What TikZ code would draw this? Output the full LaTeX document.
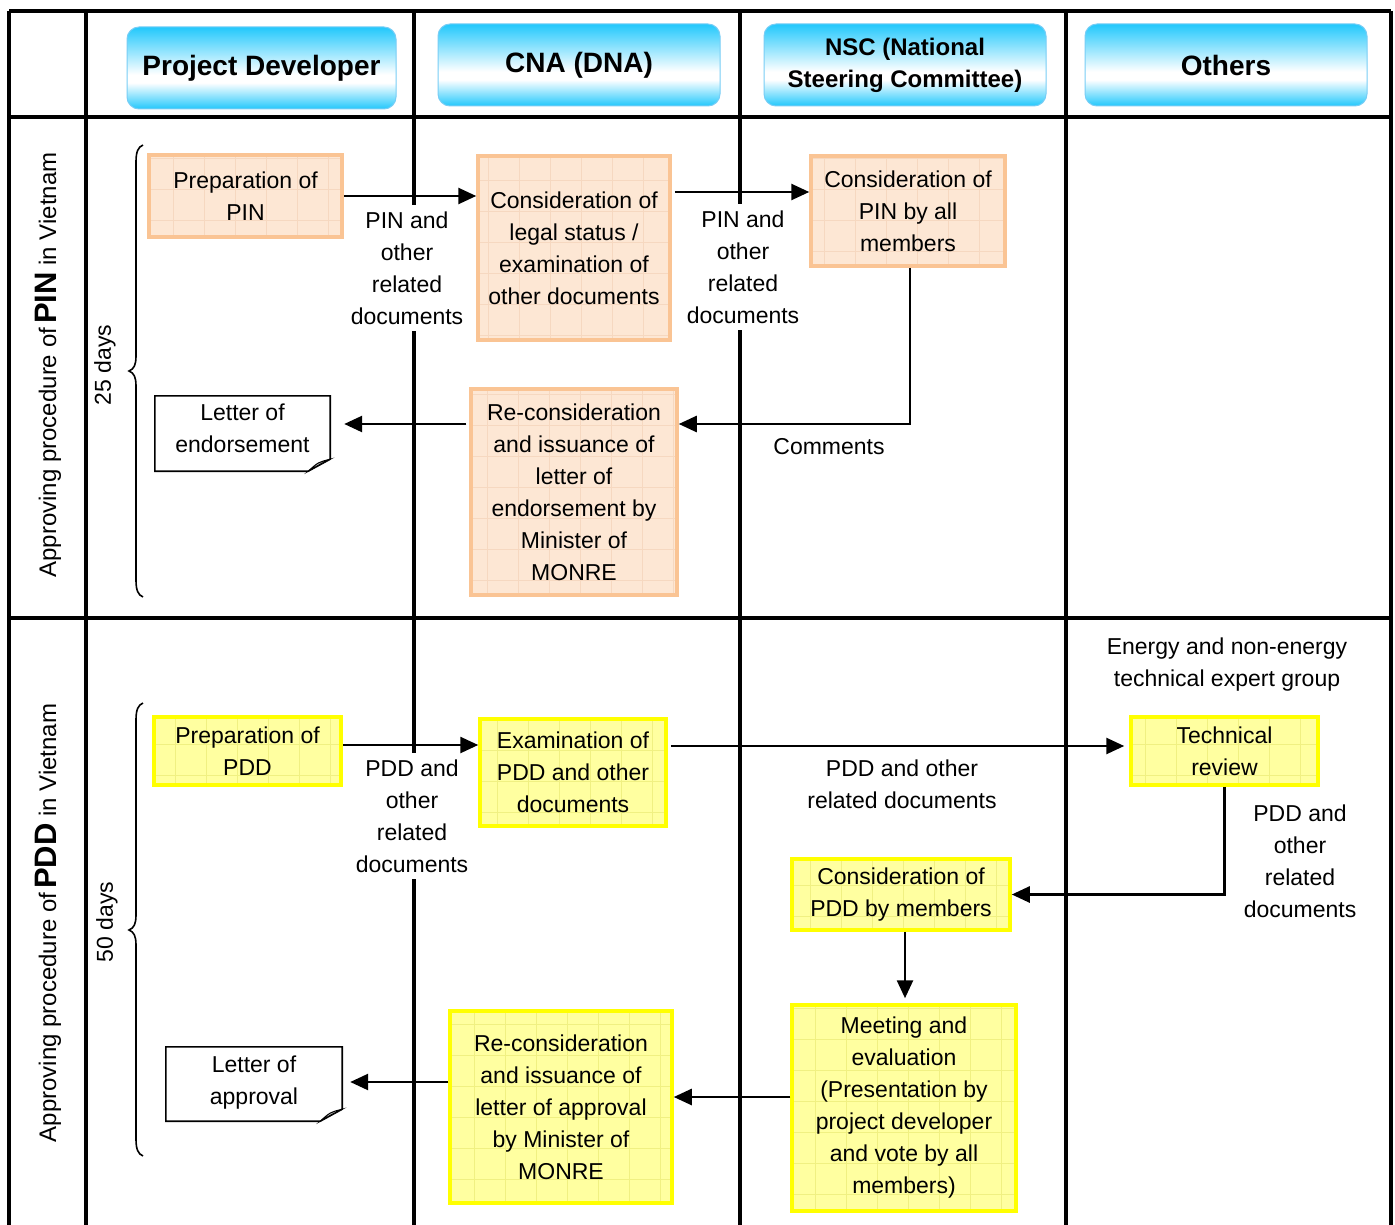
\documentclass[tikz,border=0pt]{standalone}
\usepackage{fontspec}
\setmainfont{Liberation Sans}
\usetikzlibrary{arrows.meta,calc}
\definecolor{hcyan}{RGB}{34,200,252}
\definecolor{hbord}{RGB}{120,205,245}
\definecolor{ofill}{RGB}{253,231,212}
\definecolor{obord}{RGB}{250,196,148}
\definecolor{ogrid}{RGB}{246,216,192}
\definecolor{yfill}{RGB}{255,255,160}
\definecolor{ybord}{RGB}{255,255,0}
\definecolor{ygrid}{RGB}{240,240,130}
\pgfdeclareverticalshading{hdrshade}{100bp}{color(0bp)=(hcyan); color(25bp)=(hcyan); color(41bp)=(white); color(46bp)=(white); color(75bp)=(hcyan); color(100bp)=(hcyan)}
\newcommand{\docoutline}[1]{%
  \draw[line width=1.6pt] (#1.north west) -- (#1.north east) -- ([yshift=12pt]#1.south east)
     -- ([xshift=-22pt]#1.south east) -- (#1.south west) -- cycle;
  \filldraw[fill=gray!45, line width=1pt] ([xshift=-22pt]#1.south east)
     .. controls ([xshift=-12pt,yshift=9pt]#1.south east) .. ([yshift=12pt]#1.south east)
     -- ([xshift=-10pt,yshift=7pt]#1.south east) -- cycle;}
\begin{document}
\begin{tikzpicture}[x=1pt,y=-1pt,
  every node/.style={font=\fontsize{23}{32}\selectfont},
  lane/.style={line width=3.2pt},
  hdr/.style={draw=hbord, line width=1pt, rounded corners=12pt, shading=hdrshade,
     minimum width=282pt, minimum height=82pt, align=center, inner sep=0pt},
  gridfill/.style={path picture={\draw[#1, line width=0.6pt] (path picture bounding box.south west) grid[step=31pt] (path picture bounding box.north east);}},
  obox/.style={draw=obord, line width=3.5pt, fill=ofill, align=center, inner sep=0pt, gridfill=ogrid},
  ybox/.style={draw=ybord, line width=3.5pt, fill=yfill, align=center, inner sep=0pt, gridfill=ygrid},
  docnode/.style={align=center, inner sep=0pt},
  doctext/.style={align=center, inner sep=0pt, yshift=#1},
  lbl/.style={fill=white, align=center, inner xsep=2pt, inner ysep=7pt},
  plain/.style={align=center, inner sep=0pt},
  arr/.style={line width=2.6pt, -{Triangle[length=18pt,width=16pt]}},
  bracepath/.style={line width=1.6pt}]
\useasboundingbox (0,0) rectangle (1395,1225);
% table lines
\draw[lane] (9,11) -- (1391,11);
\draw[lane] (9,117) -- (1391,117);
\draw[lane] (9,618) -- (1391,618);
\foreach \xx in {9,86,414,740,1066,1391} {\draw[lane] (\xx,11) -- (\xx,1226);}
% headers
\node[hdr, minimum width=269pt, font=\fontsize{28}{32}\selectfont\bfseries] (hPD) at (261.5,68) {Project Developer};
\node[hdr, font=\fontsize{28}{32}\selectfont\bfseries] (hCNA) at (579,65) {CNA (DNA)};
\node[hdr, font=\fontsize{24}{32}\selectfont\bfseries] (hNSC) at (905,65) {NSC (National\\Steering Committee)};
\node[hdr, font=\fontsize{28}{32}\selectfont\bfseries] (hOth) at (1226,65) {Others};
% row labels
\node[rotate=90, plain, font=\fontsize{24}{32}\selectfont] (rPIN) at (48,365) {Approving procedure of\,{\bfseries\fontsize{31}{31}\selectfont PIN} in Vietnam};
\node[rotate=90, plain, font=\fontsize{24}{32}\selectfont] (rPDD) at (48,923) {Approving procedure of\,{\bfseries\fontsize{31}{31}\selectfont PDD} in Vietnam};
\node[rotate=90, plain] (d25) at (105,365) {25 days};
\node[rotate=90, plain] (d50) at (107,922) {50 days};
% braces
\draw[bracepath] (143,145) .. controls (138,147) and (136,152) .. (136,162) -- (136,356) .. controls (136,365) and (134,369) .. (129,371) .. controls (134,373) and (136,377) .. (136,386) -- (136,580) .. controls (136,590) and (138,595) .. (143,597);
\draw[bracepath] (143,703) .. controls (138,705) and (136,710) .. (136,720) -- (136,915) .. controls (136,924) and (134,928) .. (129,930) .. controls (134,932) and (136,936) .. (136,945) -- (136,1139) .. controls (136,1149) and (138,1154) .. (143,1156);
% labels on lines
\node[lbl] (L1) at (407,268) {PIN and\\other\\related\\documents};
\node[lbl] (L2) at (743,267) {PIN and\\other\\related\\documents};
\node[plain] (Lc) at (829,447) {Comments};
\node[lbl] (L3) at (412,816) {PDD and\\other\\related\\documents};
\node[plain] (L4) at (902,784) {PDD and other\\related documents};
\node[plain] (L5) at (1300,861) {PDD and\\other\\related\\documents};
\node[plain] (Len) at (1227,665) {Energy and non-energy\\technical expert group};
% PIN row boxes
\node[obox, minimum width=193pt, minimum height=82pt] (PIN1) at (245.5,196) {Preparation of\\PIN};
\node[obox, minimum width=192pt, minimum height=184pt] (PIN2) at (574,248) {Consideration of\\legal status /\\examination of\\other documents};
\node[obox, minimum width=194pt, minimum height=110pt] (PIN3) at (908,211) {Consideration of\\PIN by all\\members};
\node[obox, minimum width=206pt, minimum height=206pt] (PIN4) at (574,492) {Re-consideration\\and issuance of\\letter of\\endorsement by\\Minister of\\MONRE};
\node[docnode, minimum width=175pt, minimum height=75pt] (PINlet) at (242.5,433.5) {};
\docoutline{PINlet}
\node[doctext=5pt] (PINlettxt) at (PINlet) {Letter of\\endorsement};
% PDD row boxes
\node[ybox, minimum width=187pt, minimum height=68pt] (PDD1) at (247.5,751) {Preparation of\\PDD};
\node[ybox, minimum width=186pt, minimum height=107pt] (PDD2) at (573,772.5) {Examination of\\PDD and other\\documents};
\node[ybox, minimum width=187pt, minimum height=68pt] (PDD3) at (1224.5,751) {Technical\\review};
\node[ybox, minimum width=218pt, minimum height=71pt] (PDD4) at (901,894.5) {Consideration of\\PDD by members};
\node[ybox, minimum width=224pt, minimum height=206pt] (PDD5) at (904,1108) {Meeting and\\evaluation\\(Presentation by\\project developer\\and vote by all\\members)};
\node[ybox, minimum width=222pt, minimum height=192pt] (PDD6) at (561,1107) {Re-consideration\\and issuance of\\letter of approval\\by Minister of\\MONRE};
\node[docnode, minimum width=176pt, minimum height=74pt] (PDD7) at (254,1084) {};
\docoutline{PDD7}
\node[doctext=1.5pt] (PDD7txt) at (PDD7) {Letter of\\approval};
% PIN connectors
\draw[arr] (PIN1.east) -- (PIN1.east -| PIN2.west);
\draw[arr, shorten <=3pt] ([yshift=19pt]PIN3.west -| PIN2.east) -- ([yshift=19pt]PIN3.west);
\draw[arr] ([xshift=2pt]PIN3.south) |- ([yshift=68pt]PIN4.east);
\draw[arr, shorten <=3pt, shorten >=14pt] ([yshift=68pt]PIN4.west) -- ([yshift=68pt]PIN4.west -| PINlet.east);
% PDD connectors
\draw[arr] ([yshift=6pt]PDD1.east) -- ([yshift=6pt]PDD1.east -| PDD2.west);
\draw[arr, shorten <=3pt, shorten >=5pt] ([yshift=5pt]PDD3.west -| PDD2.east) -- ([yshift=5pt]PDD3.west);
\draw[arr] (PDD3.south) |- (PDD4.east);
\draw[arr, shorten >=5pt] ([xshift=4pt]PDD4.south) -- ([xshift=4pt]PDD4.south |- PDD5.north);
\draw[arr] ([yshift=11pt]PDD5.west) -- ([yshift=11pt]PDD5.west -| PDD6.east);
\draw[arr, shorten >=8pt] ([yshift=25pt]PDD6.west) -- ([yshift=25pt]PDD6.west -| PDD7.east);
\end{tikzpicture}
\end{document}
